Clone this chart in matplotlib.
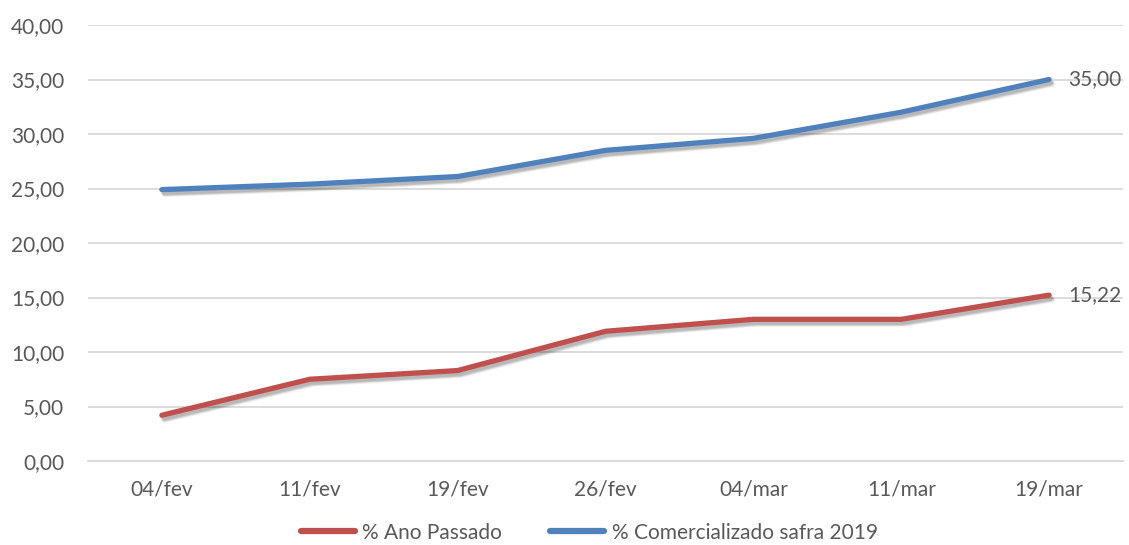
import matplotlib
matplotlib.use("Agg")
from matplotlib import pyplot as plt
from matplotlib import patheffects as pe
from matplotlib.ticker import FuncFormatter, MultipleLocator

datas = ["04/fev", "11/fev", "19/fev", "26/fev", "04/mar", "11/mar", "19/mar"]
ano_passado = [4.2, 7.5, 8.3, 11.9, 13.0, 13.0, 15.22]
safra_2019 = [24.9, 25.4, 26.1, 28.5, 29.6, 32.0, 35.00]

VERMELHO = "#C0504D"
AZUL = "#4F81BD"
TEXTO = "#595959"

plt.rcParams["font.family"] = ["Lato", "DejaVu Sans"]


def virgula(v, _pos=None):
    return f"{v:.2f}".replace(".", ",")


def sombra():
    # soft drop shadow built from a few offset layers
    efeitos = []
    for dx, dy, a in [(2.5, -3.5, 0.05), (2, -3, 0.08), (1.5, -2.5, 0.1), (1, -2, 0.08)]:
        efeitos.append(pe.SimpleLineShadow(offset=(dx, dy), shadow_color="black", alpha=a))
    efeitos.append(pe.Normal())
    return efeitos


fig = plt.figure(figsize=(11.29, 5.45), dpi=100)
ax = fig.add_axes([0.0779, 0.1541, 0.9168, 0.8])

x = range(len(datas))
ax.plot(x, ano_passado, color=VERMELHO, lw=3.8, solid_capstyle="round",
        solid_joinstyle="round", label="% Ano Passado", path_effects=sombra(), zorder=3)
ax.plot(x, safra_2019, color=AZUL, lw=3.8, solid_capstyle="round",
        solid_joinstyle="round", label="% Comercializado safra 2019", path_effects=sombra(), zorder=3)

for serie in (ano_passado, safra_2019):
    ax.annotate(virgula(serie[-1]), (len(datas) - 1, serie[-1]), xytext=(14, 0),
                textcoords="offset points", va="center", ha="left", fontsize=15, color=TEXTO)

ax.set_xlim(-0.5, len(datas) - 0.5)
ax.set_ylim(0, 40)
ax.yaxis.set_major_locator(MultipleLocator(5))
ax.yaxis.set_major_formatter(FuncFormatter(virgula))
ax.set_xticks(list(x))
ax.set_xticklabels(datas)
ax.grid(axis="y", color="#D9D9D9", lw=1.3)
ax.set_axisbelow(True)
for lado in ["top", "right", "left"]:
    ax.spines[lado].set_visible(False)
ax.spines["bottom"].set_color("#D9D9D9")
ax.spines["bottom"].set_linewidth(1.3)
ax.tick_params(axis="both", length=0, labelsize=15, labelcolor=TEXTO)
ax.tick_params(axis="y", pad=17)
ax.tick_params(axis="x", pad=13)

leg = fig.legend(loc="lower center", bbox_to_anchor=(0.522, -0.03), ncol=2, frameon=False,
                 fontsize=15, handlelength=2.6, columnspacing=2.3, handletextpad=0.35)
for h in leg.get_lines():
    h.set_path_effects([pe.Normal()])
    h.set_linewidth(4.5)
for t in leg.get_texts():
    t.set_color(TEXTO)

fig.savefig("out.png", dpi=100)
